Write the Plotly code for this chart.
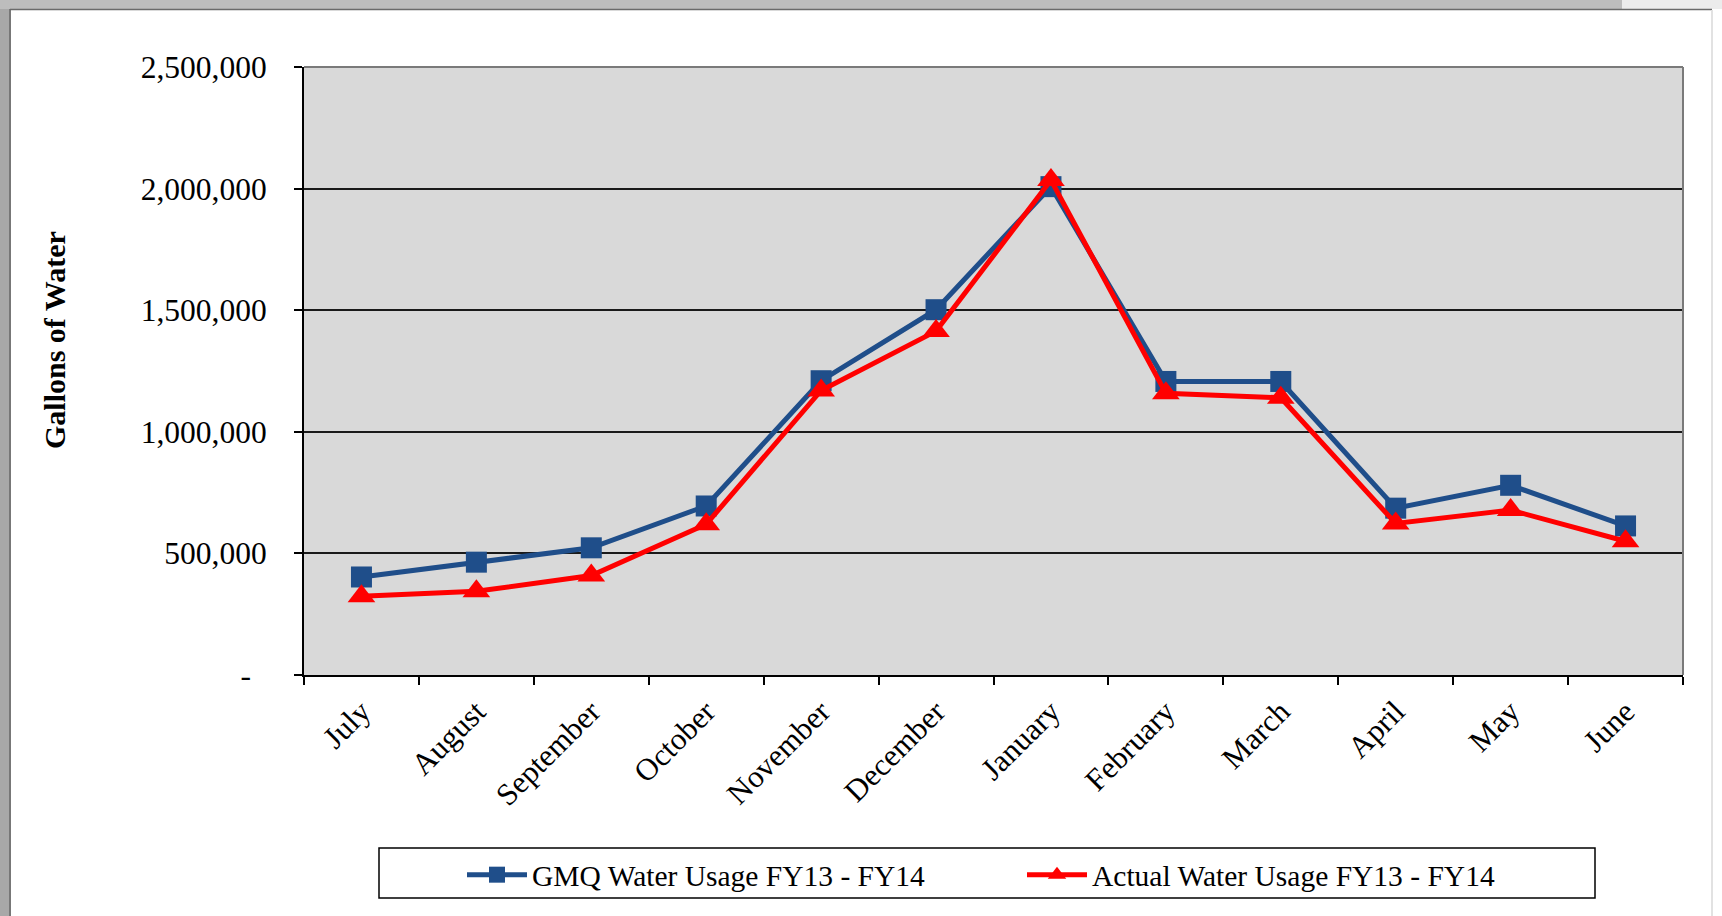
import plotly.graph_objects as go

# ---- data ----
months = ["July", "August", "September", "October", "November", "December",
          "January", "February", "March", "April", "May", "June"]
gmq_usage = [403000, 464000, 523000, 695000, 1210000, 1502000,
             2008000, 1207000, 1207000, 686000, 780000, 613000]
actual_usage = [324000, 344000, 409000, 620000, 1170000, 1414000,
                2035000, 1158000, 1140000, 623000, 678000, 550000]
y_tick_vals = [0, 500000, 1000000, 1500000, 2000000, 2500000]
y_tick_text = ["-\u2007", "500,000", "1,000,000", "1,500,000", "2,000,000", "2,500,000"]
series_names = ["GMQ Water Usage FY13 - FY14", "Actual Water Usage FY13 - FY14"]
y_title = "Gallons of Water"

# ---- layout geometry (pixels) ----
W, H = 1722, 916
L, R, T, B = 304, 1683, 67, 675
PW, PH = R - L, B - T


def px(x):
    return (x - L) / PW


def py(y):
    return (B - y) / PH


FONT = "Liberation Serif"
BLUE = "#1f4e8a"
RED = "#ff0000"

fig = go.Figure()
fig.add_trace(go.Scatter(
    x=months, y=gmq_usage, name=series_names[0], mode="lines+markers",
    line=dict(color=BLUE, width=5),
    marker=dict(symbol="square", size=21, color=BLUE),
    legend="legend",
))
fig.add_trace(go.Scatter(
    x=months, y=actual_usage, name=series_names[1], mode="lines+markers",
    line=dict(color=RED, width=5),
    marker=dict(symbol="triangle-up", size=24, color=RED),
    legend="legend2",
))

shapes = [
    # outer gray frame strips
    dict(type="rect", xref="paper", yref="paper", x0=px(0), x1=px(9), y0=py(W), y1=py(0),
         fillcolor="#a8a8a8", line=dict(width=0), layer="below"),
    dict(type="rect", xref="paper", yref="paper", x0=px(0), x1=px(1622), y0=py(9), y1=py(0),
         fillcolor="#bdbdbd", line=dict(width=0), layer="below"),
    dict(type="rect", xref="paper", yref="paper", x0=px(1622), x1=px(W), y0=py(9), y1=py(0),
         fillcolor="#ececec", line=dict(width=0), layer="below"),
    dict(type="line", xref="paper", yref="paper", x0=px(10), x1=px(10), y0=py(9), y1=py(916),
         line=dict(color="#4a4a4a", width=1.5)),
    dict(type="line", xref="paper", yref="paper", x0=px(10), x1=px(1712), y0=py(9.5), y1=py(9.5),
         line=dict(color="#6a6a6a", width=1.5)),
    dict(type="line", xref="paper", yref="paper", x0=px(1712), x1=px(1712), y0=py(10), y1=py(916),
         line=dict(color="#e2e2e2", width=2)),
    # plot border (top/right gray)
    dict(type="line", xref="paper", yref="paper", x0=0, x1=1, y0=1, y1=1,
         line=dict(color="#7a7a7a", width=2)),
    dict(type="line", xref="paper", yref="paper", x0=1, x1=1, y0=0, y1=1,
         line=dict(color="#7a7a7a", width=2)),
    # legend box
    dict(type="rect", xref="paper", yref="paper", x0=px(379), x1=px(1595), y0=py(898), y1=py(848),
         line=dict(color="#000000", width=1.5), fillcolor="rgba(0,0,0,0)"),
]

legend_common = dict(
    orientation="h", xanchor="left", yanchor="middle", y=py(875),
    bgcolor="rgba(0,0,0,0)", borderwidth=0, itemwidth=60,
    font=dict(family=FONT, size=29.5, color="#000000"),
)

fig.update_layout(
    width=W, height=H,
    margin=dict(l=L, r=W - R, t=T, b=H - B, pad=0),
    paper_bgcolor="#ffffff",
    plot_bgcolor="#d9d9d9",
    font=dict(family=FONT, color="#000000"),
    showlegend=True,
    legend=dict(x=px(462), **legend_common),
    legend2=dict(x=px(1022), **legend_common),
    shapes=shapes,
    annotations=[dict(
        text="<b>" + y_title + "</b>", xref="paper", yref="paper",
        x=px(54), y=py(340), xanchor="center", yanchor="middle",
        textangle=-90, showarrow=False,
        font=dict(family=FONT, size=30, color="#000000"),
    )],
    xaxis=dict(
        type="category", categoryorder="array", categoryarray=months,
        range=[-0.5, len(months) - 0.5],
        tickson="boundaries", ticks="outside", ticklen=8, tickwidth=1.5, tickcolor="#000000",
        tickangle=-45, tickfont=dict(family=FONT, size=31, color="#000000"),
        ticklabelstandoff=4,
        showline=True, linecolor="#000000", linewidth=2,
        showgrid=False, zeroline=False,
    ),
    yaxis=dict(
        range=[0, 2500000], tickvals=y_tick_vals, ticktext=y_tick_text,
        ticks="outside", ticklen=8, tickwidth=1.5, tickcolor="#000000",
        tickfont=dict(family=FONT, size=31.5, color="#000000"),
        ticklabelstandoff=21,
        showline=True, linecolor="#000000", linewidth=2,
        showgrid=True, gridcolor="#1a1a1a", gridwidth=1.5, zeroline=False,
    ),
)

fig.write_html(
    "out.html",
    config={"displayModeBar": False},
    post_script="document.body.style.margin='0';document.body.style.overflow='hidden';",
)
